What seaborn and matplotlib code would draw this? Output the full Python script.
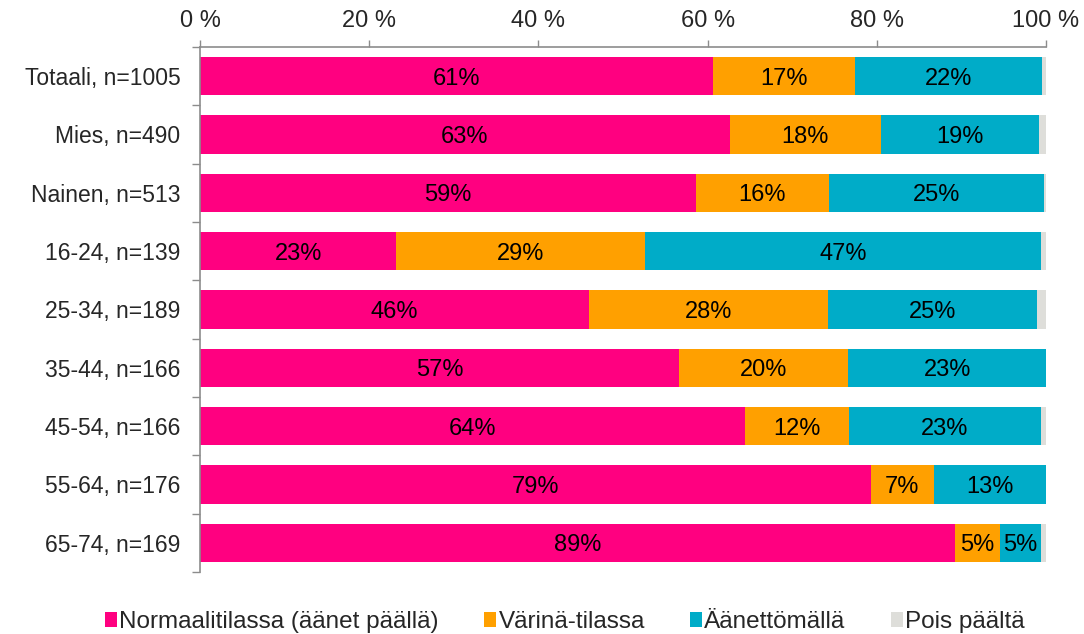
import pandas as pd
import matplotlib.pyplot as plt
import seaborn as sns
from matplotlib.patches import Patch

groups = ["Totaali, n=1005", "Mies, n=490", "Nainen, n=513", "16-24, n=139",
          "25-34, n=189", "35-44, n=166", "45-54, n=166", "55-64, n=176",
          "65-74, n=169"]
normaali = [60.6, 62.6, 58.6, 23.2, 46.0, 56.6, 64.4, 79.3, 89.2]
varina = [16.8, 17.9, 15.7, 29.4, 28.2, 20.0, 12.3, 7.4, 5.3]
aaneton = [22.1, 18.7, 25.4, 46.8, 24.7, 23.4, 22.7, 13.3, 4.9]
pois = [0.5, 0.8, 0.3, 0.6, 1.1, 0.0, 0.6, 0.0, 0.6]

series = ["Normaalitilassa (äänet päällä)", "Värinä-tilassa", "Äänettömällä", "Pois päältä"]
colors = ["#FF0080", "#FFA000", "#00ACC8", "#DEDEDA"]
xticks = [0, 20, 40, 60, 80, 100]

sns.set_theme(style="white")
plt.rcParams['font.family'] = ['Liberation Sans', 'DejaVu Sans']

df = pd.DataFrame({"group": groups, "n": normaali, "v": varina, "a": aaneton, "p": pois})
df["c1"] = df["n"]
df["c2"] = df["c1"] + df["v"]
df["c3"] = df["c2"] + df["a"]
df["c4"] = df["c3"] + df["p"]

fig = plt.figure(figsize=(10.84, 6.34), dpi=100)
ax = fig.add_axes([0.1845, 0.0978, 0.7805, 0.8281])

# draw cumulative bars from the longest to the shortest so they stack visually
for col, color in zip(["c4", "c3", "c2", "c1"], colors[::-1]):
    sns.barplot(data=df, y="group", x=col, color=color, width=0.66,
                orient="h", ax=ax, saturation=1, edgecolor="none")

# segment labels
for i, row in df.iterrows():
    starts = [0, row["c1"], row["c2"]]
    for s, w in zip(starts, [row["n"], row["v"], row["a"]]):
        ax.text(s + w / 2, i, f"{round(w)}%", ha="center", va="center_baseline",
                fontsize=17, color="black")

ax.set_xlim(0, 100)
ax.set_ylim(len(groups) - 0.5, -0.5)
ax.set_xlabel("")
ax.set_ylabel("")

ax.xaxis.tick_top()
ax.set_xticks(xticks)
ax.set_xticklabels([f"{t} %" for t in xticks], fontsize=17)
ax.tick_params(axis="x", which="major", top=True, bottom=False, length=5,
               width=1, color="#8C8C8C", pad=6, direction="out")

ax.set_yticks(range(len(groups)))
ax.set_yticklabels(groups, fontsize=16.5)
ax.set_yticks([i - 0.5 for i in range(len(groups) + 1)], minor=True)
ax.tick_params(axis="y", which="major", length=0, pad=14)
ax.tick_params(axis="y", which="minor", left=True, length=6, width=1,
               color="#8C8C8C", direction="out")

for side in ["right", "bottom"]:
    ax.spines[side].set_visible(False)
for side in ["top", "left"]:
    ax.spines[side].set_color("#8C8C8C")
    ax.spines[side].set_linewidth(1.2)

handles = [Patch(facecolor=c, edgecolor="none") for c in colors]
fig.legend(handles, series, loc="center", bbox_to_anchor=(0.521, 0.019),
           ncol=4, frameon=False, fontsize=17.5, handlelength=0.5,
           handleheight=0.55, handletextpad=0.1, columnspacing=1.85)

plt.savefig("out.png", dpi=100)
plt.close()
